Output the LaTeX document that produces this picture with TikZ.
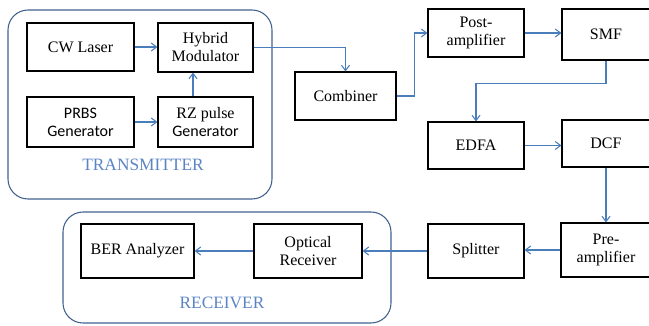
\documentclass[tikz,border=0pt]{standalone}
\usepackage{fontspec}
\setmainfont{Liberation Serif}
\newfontfamily\serifblock{Liberation Serif}
\newfontfamily\calibrifont{Carlito}
\usetikzlibrary{arrows.meta}
\definecolor{linkblue}{HTML}{4A7EBB}
\definecolor{groupblue}{HTML}{41618F}
\definecolor{titleblue}{HTML}{5B84C4}
\begin{document}
\begin{tikzpicture}[x=0.75pt,y=-0.75pt,
    block/.style={draw,line width=0.8pt,inner sep=0pt,align=center,
      font=\serifblock\fontsize{12}{13.5}\selectfont},
    group/.style={draw=groupblue,line width=0.8pt,rounded corners=15pt,inner sep=0pt},
    title/.style={text=titleblue,font=\serifblock\fontsize{13}{15}\selectfont},
    link/.style={draw=linkblue,line width=0.8pt,-{Straight Barb[length=4pt,width=6pt]}}]
        \useasboundingbox (0,0) rectangle (649,325);
        % группы
        \node[group,minimum width=198pt,minimum height=141.75pt] (tx) at (140,104.5) {};
        \node[group,minimum width=246pt,minimum height=83.25pt] (rx) at (227,267.5) {};
        \node[title] (txlabel) at (143,165) {TRANSMITTER};
        \node[title] (rxlabel) at (222,303) {RECEIVER};

        % блоки передатчика
        \node[block,minimum width=80.25pt,minimum height=36pt] (laser) at (80.5,47) {CW Laser};
        \node[block,minimum width=71.25pt,minimum height=36.75pt] (hybrid) at (205.5,47.5) {Hybrid\\Modulator};
        \node[block,minimum width=80.25pt,minimum height=37.5pt] (prbs) at (80.5,122) {\calibrifont PRBS\\\calibrifont Generator};
        \node[block,minimum width=71.25pt,minimum height=37.5pt] (rz) at (205.5,122) {RZ pulse\\\calibrifont Generator};

        % линия
        \node[block,minimum width=75.75pt,minimum height=36pt] (combiner) at (345.5,96) {Combiner};
        \node[block,minimum width=72pt,minimum height=36pt] (post) at (476,33) {Post-\\amplifier};
        \node[block,minimum width=66pt,minimum height=38.25pt] (smf) at (606,34.5) {SMF};
        \node[block,minimum width=72pt,minimum height=35.25pt] (edfa) at (476,145.5) {EDFA};
        \node[block,minimum width=66pt,minimum height=35.25pt] (dcf) at (606,143.5) {DCF};
        \node[block,minimum width=67.5pt,minimum height=40.5pt] (pre) at (606,250) {Pre-\\amplifier};

        % приемник
        \node[block,minimum width=72pt,minimum height=40.5pt] (splitter) at (476,251) {Splitter};
        \node[block,minimum width=81pt,minimum height=40.5pt] (optical) at (308,251) {Optical\\Receiver};
        \node[block,minimum width=84.75pt,minimum height=40.5pt] (ber) at (137.5,251) {BER Analyzer};

        % связи
        \draw[link] (laser.east) -- (laser.east -| hybrid.west);
        \draw[link] (prbs.east) -- (prbs.east -| rz.west);
        \draw[link] (rz.north -| 193,0) -- (hybrid.south -| 193,0);
        \draw[link] (hybrid.east) -| (combiner.north);
        \draw[link] (combiner.east) -- ++(18,0) |- (post.west);
        \draw[link] (post.east) -- (post.east -| smf.west);
        \draw[link] (smf.south) -- ++(0,23) -| (edfa.north);
        \draw[link] (edfa.east) -- (edfa.east -| dcf.west);
        \draw[link] (dcf.south) -- (pre.north);
        \draw[link] (pre.west) -- (pre.west -| splitter.east);
        \draw[link] (splitter.west) -- (splitter.west -| optical.east);
        \draw[link] (optical.west) -- (optical.west -| ber.east);
    \end{tikzpicture}
\end{document}
